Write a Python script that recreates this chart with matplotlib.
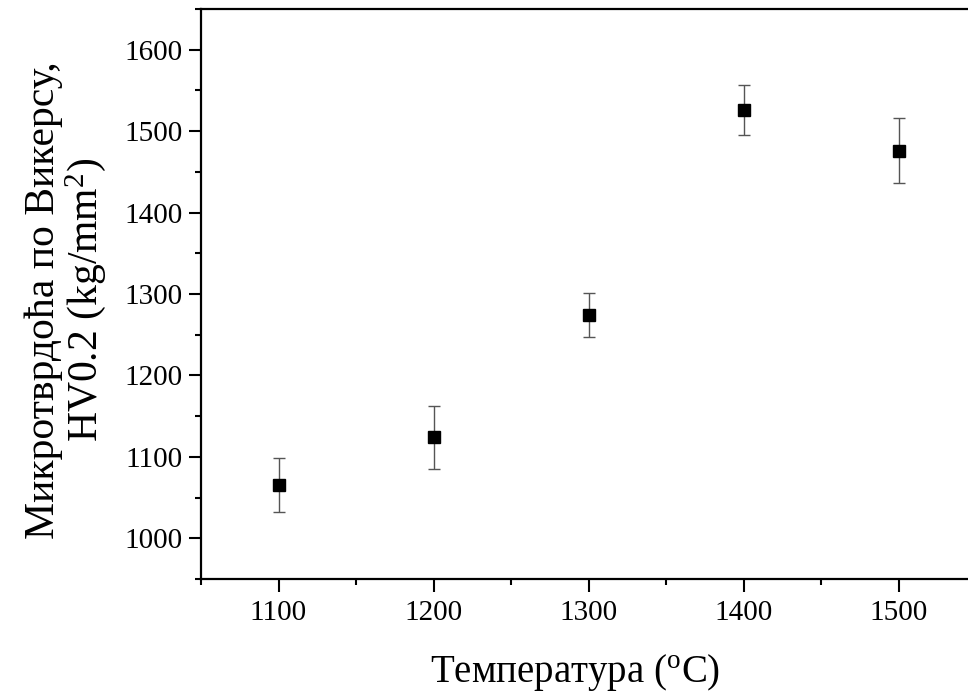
import matplotlib
matplotlib.use("Agg")
import matplotlib.pyplot as plt
from matplotlib.ticker import MultipleLocator

temperature = [1100, 1200, 1300, 1400, 1500]
hardness = [1065, 1124, 1274, 1526, 1476]
hardness_err = [33, 39, 27, 31, 40]

plt.rcParams['font.family'] = ['Liberation Serif', 'DejaVu Serif']
plt.rcParams['mathtext.fontset'] = 'custom'
plt.rcParams['mathtext.rm'] = 'Liberation Serif'
plt.rcParams['mathtext.it'] = 'Liberation Serif:italic'

W, H = 968, 695
fig = plt.figure(figsize=(W / 100, H / 100), dpi=100)
left, right, top, bottom = 201, 976, 9, 579
ax = fig.add_axes([left / W, 1 - bottom / H, (right - left) / W, (bottom - top) / H])

ax.errorbar(temperature, hardness, yerr=hardness_err, fmt='s', color='black',
            markersize=9, ecolor='#555555', elinewidth=1.0, capsize=4.5, capthick=1.0)

ax.set_xlim(1050, 1550)
ax.set_ylim(950, 1650)
ax.xaxis.set_major_locator(MultipleLocator(100))
ax.xaxis.set_minor_locator(MultipleLocator(50))
ax.yaxis.set_major_locator(MultipleLocator(100))
ax.yaxis.set_minor_locator(MultipleLocator(50))
ax.tick_params(which='major', direction='out', length=9, width=1.5, labelsize=21, pad=4)
ax.tick_params(axis='x', which='major', pad=6)
ax.tick_params(which='minor', direction='out', length=4.5, width=1.5)
for s in ax.spines.values():
    s.set_linewidth(1.6)

ax.set_xlabel('Температура ($^\\mathrm{o}$C)', fontsize=28)
ax.set_ylabel('Микротврдоћа по Викерсу,\nHV0.2 (kg/mm$^\\mathrm{2}$)', fontsize=30, linespacing=1.0)
ax.xaxis.set_label_coords((575 - left) / (right - left), -(652 - bottom) / (bottom - top))
ax.yaxis.set_label_coords(-(201 - 108) / (right - left), (bottom - 300) / (bottom - top))

fig.savefig('out.png', dpi=100)
